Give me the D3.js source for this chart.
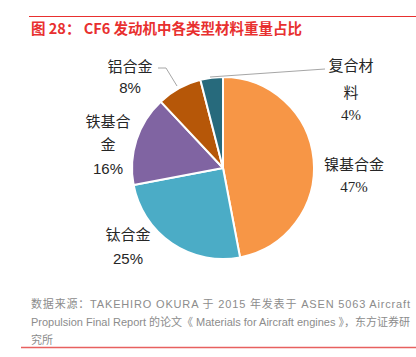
<!DOCTYPE html>
<html><head><meta charset="utf-8">
<script src="https://cdn.jsdelivr.net/npm/d3@7"></script>
<style>html,body{margin:0;padding:0;background:#fff;}svg{display:block;}</style>
</head><body>
<svg id="c" width="416" height="357"></svg>
<script>
const categories = ["镍基合金","钛合金","铁基合金","铝合金","复合材料"];
const values = [47, 25, 16, 8, 4];
const labels = ["47%","25%","16%","8%","4%"];
const colors = ["#F79646","#4BACC6","#8064A2","#B65708","#276A7C"];

const svg = d3.select("#c");
const cx = 223, cy = 168, r = 91;

// top rule and title
svg.append("line").attr("x1",29).attr("x2",416).attr("y1",16.5).attr("y2",16.5)
  .attr("stroke","#E8302F").attr("stroke-width",1);
svg.append("text").attr("x",31).attr("y",34)
  .attr("font-family","Noto Sans CJK SC").attr("font-weight","bold").attr("font-size",14.5)
  .attr("fill","#E8302F").attr("textLength",271).attr("lengthAdjust","spacing")
  .text("图 28：  CF6 发动机中各类型材料重量占比");

const pie = d3.pie().sort(null).value(d=>d)(values);
const arc = d3.arc().innerRadius(0).outerRadius(r);
const g = svg.append("g").attr("transform",`translate(${cx},${cy})`);
g.selectAll("path").data(pie).join("path")
  .attr("d",arc).attr("fill",(d,i)=>colors[i])
  .attr("stroke","#fff").attr("stroke-width",2).attr("stroke-linejoin","round");

// leader lines
const leader = [
  [[158,68],[166,68],[177,86]],
  [[210,77],[325,69]]
];
leader.forEach(p=>svg.append("path").attr("d",d3.line()(p)).attr("fill","none")
  .attr("stroke","#A6A6A6").attr("stroke-width",1));

// labels: lines of text
const cjk = "Noto Sans CJK SC";
const labelDefs = [
  {x:354, lines:[["镍基合金",163,cjk],[labels[0],187,"'Liberation Serif', serif"]]},
  {x:128, lines:[["钛合金",233,cjk],[labels[1],258,"'Liberation Sans', sans-serif"]]},
  {x:108, lines:[["铁基合",120,cjk],["金",143,cjk],[labels[2],168,"'Liberation Sans', sans-serif"]]},
  {x:130, lines:[["铝合金",65,cjk],[labels[3],87,"'Liberation Sans', sans-serif"]]},
  {x:351, lines:[["复合材",64,cjk],["料",91,cjk],[labels[4],115,"'Liberation Serif', serif"]]}
];
labelDefs.forEach(L=>L.lines.forEach(([t,y,f])=>{
  svg.append("text").attr("x",L.x).attr("y",y).attr("text-anchor","middle")
    .attr("dominant-baseline","central").attr("font-family",f)
    .attr("font-size",15).attr("fill","#262626").text(t);
}));

// source
const src = [
  ["数据来源：TAKEHIRO OKURA 于 2015 年发表于 ASEN 5063 Aircraft",304,true],
  ["Propulsion Final Report 的论文《 Materials for Aircraft engines 》，东方证券研",322,true],
  ["究所",340,false]
];
src.forEach(([t,y,just])=>{
  const tx = svg.append("text").attr("x",31).attr("y",y).attr("dominant-baseline","central")
    .attr("font-family","Liberation Sans, Noto Sans CJK SC").attr("font-size",11)
    .attr("fill","#8C8C8C").text(t);
  if(just) tx.attr("textLength",379).attr("lengthAdjust","spacing");
});
svg.append("line").attr("x1",21).attr("x2",416).attr("y1",347.5).attr("y2",347.5)
  .attr("stroke","#E8615F").attr("stroke-width",1.5);
</script>
</body></html>
